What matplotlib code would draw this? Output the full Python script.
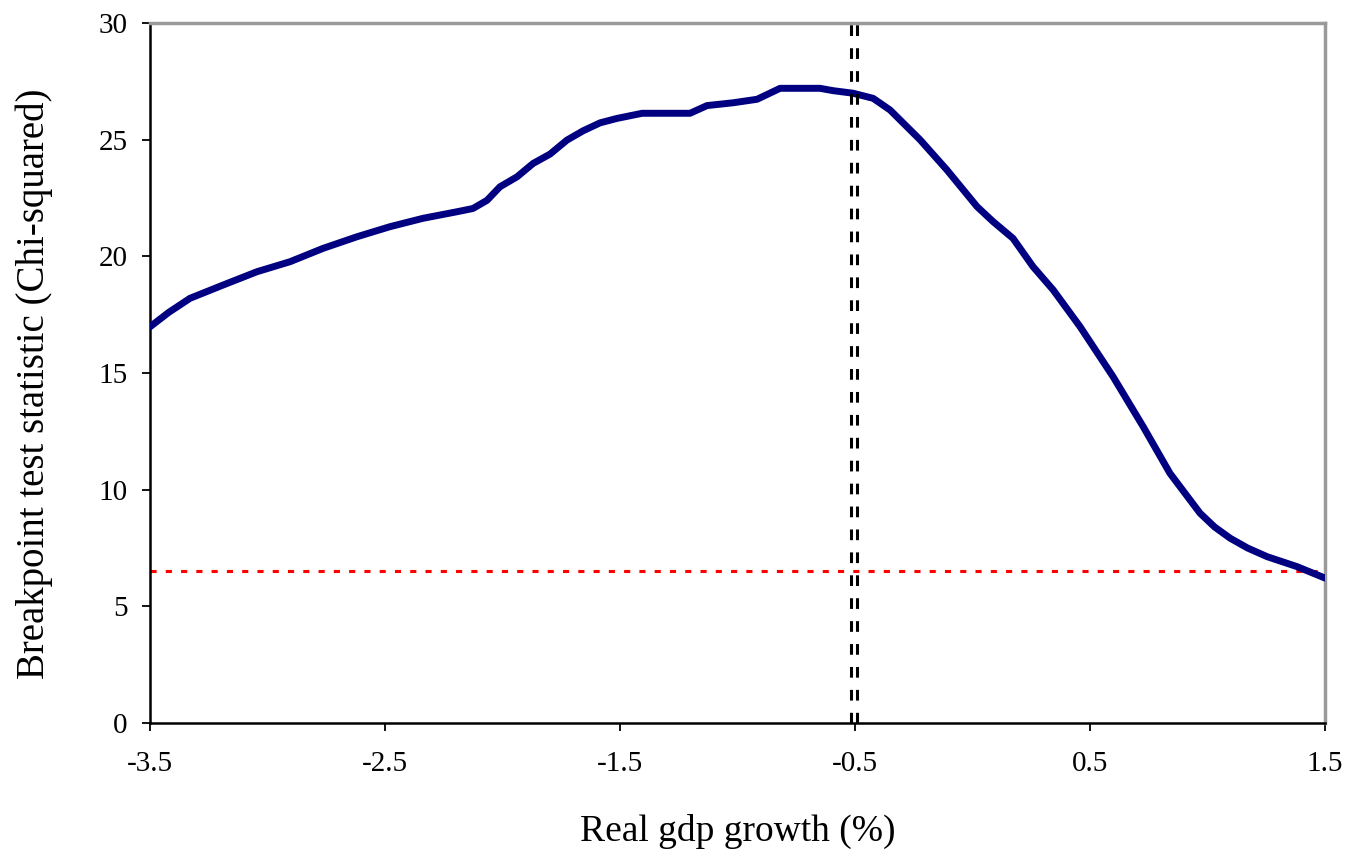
import matplotlib.pyplot as plt

# Breakpoint test statistic across candidate thresholds of real GDP growth
growth = [-3.5, -3.42, -3.33, -3.189, -3.045, -2.904, -2.764, -2.619, -2.479,
          -2.338, -2.194, -2.126, -2.066, -2.011, -1.938, -1.87, -1.798, -1.726,
          -1.657, -1.585, -1.513, -1.406, -1.202, -1.13, -1.019, -0.917, -0.819,
          -0.649, -0.594, -0.509, -0.423, -0.351, -0.309, -0.223, -0.109, 0.019,
          0.087, 0.172, 0.257, 0.343, 0.457, 0.598, 0.726, 0.84, 0.968, 1.03,
          1.096, 1.17, 1.253, 1.381, 1.5]
chi_sq = [16.98, 17.6, 18.2, 18.77, 19.34, 19.77, 20.34, 20.84, 21.27,
          21.63, 21.91, 22.05, 22.4, 22.98, 23.41, 23.98, 24.38, 24.98,
          25.38, 25.72, 25.91, 26.13, 26.13, 26.46, 26.58, 26.73, 27.2,
          27.2, 27.1, 26.99, 26.77, 26.27, 25.85, 24.99, 23.7, 22.13,
          21.49, 20.77, 19.56, 18.56, 16.99, 14.84, 12.7, 10.7, 8.99, 8.4,
          7.92, 7.5, 7.13, 6.7, 6.21]

critical_value = 6.5
breakpoints = [-0.517, -0.491]

x_ticks = [-3.5, -2.5, -1.5, -0.5, 0.5, 1.5]
y_ticks = [0, 5, 10, 15, 20, 25, 30]

plt.rcParams['font.family'] = ['Liberation Serif', 'DejaVu Serif']

fig = plt.figure(figsize=(13.48, 8.51), dpi=100)
ax = fig.add_axes([0.1113, 0.1504, 0.8717, 0.8226])

ax.plot(growth, chi_sq, color='#000080', lw=5, solid_joinstyle='round',
        solid_capstyle='round', zorder=3)
ax.axhline(critical_value, color='red', lw=2.2, dashes=(2, 3), zorder=2)
for b in breakpoints:
    ax.plot([b, b], [0, 30], color='black', lw=2.2, dashes=(3.5, 4), zorder=4)

ax.set_xlim(-3.5, 1.5)
ax.set_ylim(0, 30)
ax.set_xticks(x_ticks)
ax.set_xticklabels([f"{v:g}" for v in x_ticks])
ax.set_yticks(y_ticks)

ax.tick_params(axis='both', labelsize=21, length=6, width=1.3, direction='out')
ax.tick_params(axis='x', pad=14)
ax.tick_params(axis='y', pad=10)

for side in ['left', 'bottom']:
    ax.spines[side].set_color('black')
    ax.spines[side].set_linewidth(1.8)
for side in ['top', 'right']:
    ax.spines[side].set_color('#999999')
    ax.spines[side].set_linewidth(2.5)

ax.set_xlabel("Real gdp growth (%)", fontsize=27, labelpad=27)
ax.set_ylabel("Breakpoint test statistic (Chi-squared)", fontsize=28)
ax.yaxis.set_label_coords(-0.0825, 0.485)

fig.savefig("out.png", dpi=100)
